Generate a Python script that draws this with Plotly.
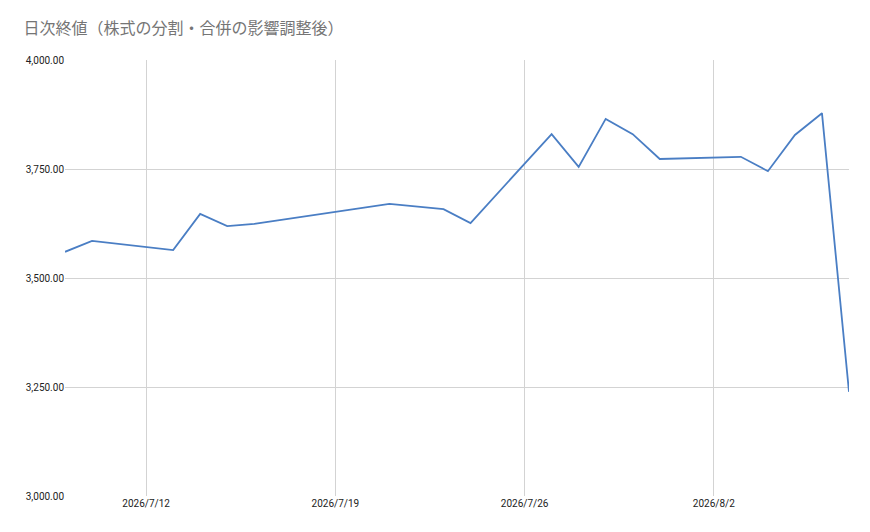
import plotly.graph_objects as go

# daily closes
dates = [
    "2026-07-09", "2026-07-10", "2026-07-13", "2026-07-14", "2026-07-15",
    "2026-07-16", "2026-07-21", "2026-07-23", "2026-07-24", "2026-07-27",
    "2026-07-28", "2026-07-29", "2026-07-30", "2026-07-31", "2026-08-03",
    "2026-08-04", "2026-08-05", "2026-08-06", "2026-08-07",
]
closes = [
    3560, 3585, 3564, 3647, 3619,
    3624, 3670, 3658, 3626, 3830,
    3755, 3865, 3830, 3773, 3778,
    3745, 3828, 3878, 3239,
]
tick_dates = ["2026-07-12", "2026-07-19", "2026-07-26", "2026-08-02"]
tick_labels = ["2026/7/12", "2026/7/19", "2026/7/26", "2026/8/2"]
y_ticks = [3000, 3250, 3500, 3750, 4000]

FONT = "Roboto, 'Noto Sans CJK JP', Arial, sans-serif"

fig = go.Figure()
fig.add_trace(go.Scatter(
    x=dates, y=closes, mode="lines",
    line=dict(color="#4a7ec4", width=1.8),
    hoverinfo="x+y", showlegend=False,
))

fig.update_layout(
    width=870, height=532,
    margin=dict(l=65, r=21, t=60, b=36),
    paper_bgcolor="white", plot_bgcolor="white",
    font=dict(family=FONT, size=10, color="#222222"),
    title=dict(
        text="日次終値（株式の分割・合併の影響調整後）",
        x=0.027, xanchor="left", y=0.947, yanchor="middle",
        font=dict(family="'Noto Sans CJK JP', sans-serif", size=16, color="#757575"),
    ),
)
fig.update_xaxes(
    range=["2026-07-09", "2026-08-07"],
    tickvals=tick_dates, ticktext=tick_labels,
    showgrid=True, gridcolor="#d3d3d3", gridwidth=1,
    zeroline=False, showline=False, ticks="",
    tickfont=dict(size=10, color="#222222"),
)
fig.update_yaxes(
    range=[3000, 4000], tickvals=y_ticks, tickformat=",.2f",
    showgrid=True, gridcolor="#d3d3d3", gridwidth=1,
    zeroline=False, showline=False, ticks="",
    tickfont=dict(size=10, color="#222222"),
)

# drop the page's default body margin so the figure sits at the window corner
fig.write_html(
    "out.html",
    config={"displayModeBar": False},
    post_script="document.body.style.margin='0';",
)
